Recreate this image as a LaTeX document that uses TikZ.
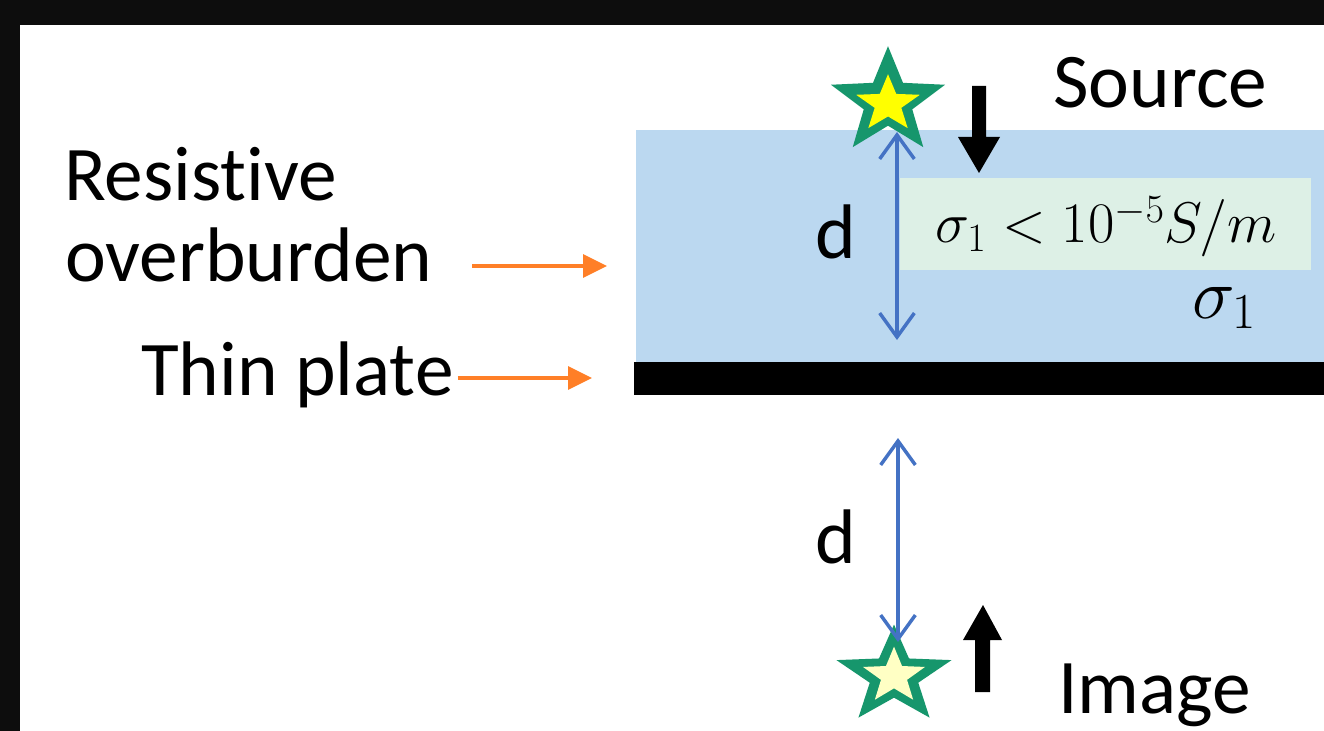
\RequirePackage{fix-cm}
\documentclass[tikz,border=0pt]{standalone}
\usepackage[no-math]{fontspec}
\setmainfont{Carlito}[Ligatures={NoCommon,NoContextual}]
\usetikzlibrary{arrows.meta}

\definecolor{frame}{HTML}{0D0D0D}
\definecolor{layer}{RGB}{187,216,240}
\definecolor{note}{RGB}{221,240,230}
\definecolor{pointer}{RGB}{255,127,39}
\definecolor{span}{RGB}{68,114,196}
\definecolor{stargreen}{RGB}{22,150,108}
\definecolor{srcyellow}{RGB}{255,255,0}
\definecolor{imgyellow}{RGB}{255,255,196}

% five-pointed star: centre x, centre y, outer radius, inner radius, vertical squeeze, colour
\newcommand\starfill[6]{%
  \begin{scope}[shift={(#1,#2)}, yscale=#5]
    \fill[#6] (-90:#3) -- (-54:#4) -- (-18:#3) -- (18:#4) -- (54:#3) -- (90:#4)
      -- (126:#3) -- (162:#4) -- (198:#3) -- (234:#4) -- cycle;
  \end{scope}}

\begin{document}
\begin{tikzpicture}[x=0.75pt, y=-0.75pt,
  lbl/.style={font=\fontsize{58}{62}\selectfont, inner sep=0pt, anchor=base west},
  pointer/.style={draw=pointer, line width=3pt, -{Triangle[length=18pt,width=17pt]}},
  span/.style={draw=span, line width=2.6pt,
    {Straight Barb[length=18pt,width=26pt]}-{Straight Barb[length=18pt,width=26pt]}}]

\useasboundingbox (0,0) rectangle (1324,731);

% frame and page
\fill[frame] (0,0) rectangle (1324,731);
\fill[white] (20,25) rectangle (1324,731);

% overburden layer, conductivity note, thin plate
\fill[layer] (636,130) rectangle (1324,362);
\fill[note] (900,178) rectangle (1311,270);
\fill[black] (634,362) rectangle (1324,395);

\node[font=\fontsize{43}{48}\selectfont, inner sep=0pt, anchor=base] (cond) at (1106,243)
  {$\sigma_1 < 10^{-5} S/m$};
\node[font=\fontsize{54}{60}\selectfont, inner sep=0pt, anchor=base west] (sig) at (1192,318)
  {$\sigma_1$};

% left-hand labels
\node[lbl] (res) at (64,200) {Resistive};
\node[lbl] (over) at (65,281) {overburden};
\node[lbl] (thin) at (141,395) {Thin plate};

% source and image stars
\starfill{888}{102}{60}{25.5}{0.93}{stargreen}
\starfill{888}{104}{33.5}{14}{0.89}{srcyellow}
\starfill{894}{676}{60.5}{25.5}{0.85}{stargreen}
\starfill{894}{676}{32.6}{13.7}{0.9}{imgyellow}
\coordinate (source) at (888,102);
\coordinate (image) at (894,676);

\node[lbl] (srclbl) at (1053,108) {Source};
\node[lbl] (imglbl) at (1058,713) {Image};

% polarity arrows
\fill[black] (972,86) -- (986,86) -- (986,137) -- (1000,137) -- (979,173)
  -- (958,137) -- (972,137) -- cycle;
\fill[black] (975,692) -- (990,692) -- (990,640) -- (1002,640) -- (983,605)
  -- (963,640) -- (975,640) -- cycle;

% distance markers
\coordinate (srcfoot) at (897,132);
\coordinate (platetop) at (897,340);
\coordinate (platebot) at (898,438);
\coordinate (imgtop) at (898,642);
\draw[span] (srcfoot) -- (platetop);
\draw[span] (platebot) -- (imgtop);
\node[lbl] (d1) at (815,258) {d};
\node[lbl] (d2) at (815,563) {d};

% label pointers
\coordinate (overtail) at (472,266);
\coordinate (overtip) at (607,266);
\coordinate (platetip) at (592,378);
\draw[pointer] (overtail) -- (overtip);
\draw[pointer] (thin.east |- platetip) ++(4,0) -- (platetip);
\end{tikzpicture}
\end{document}
